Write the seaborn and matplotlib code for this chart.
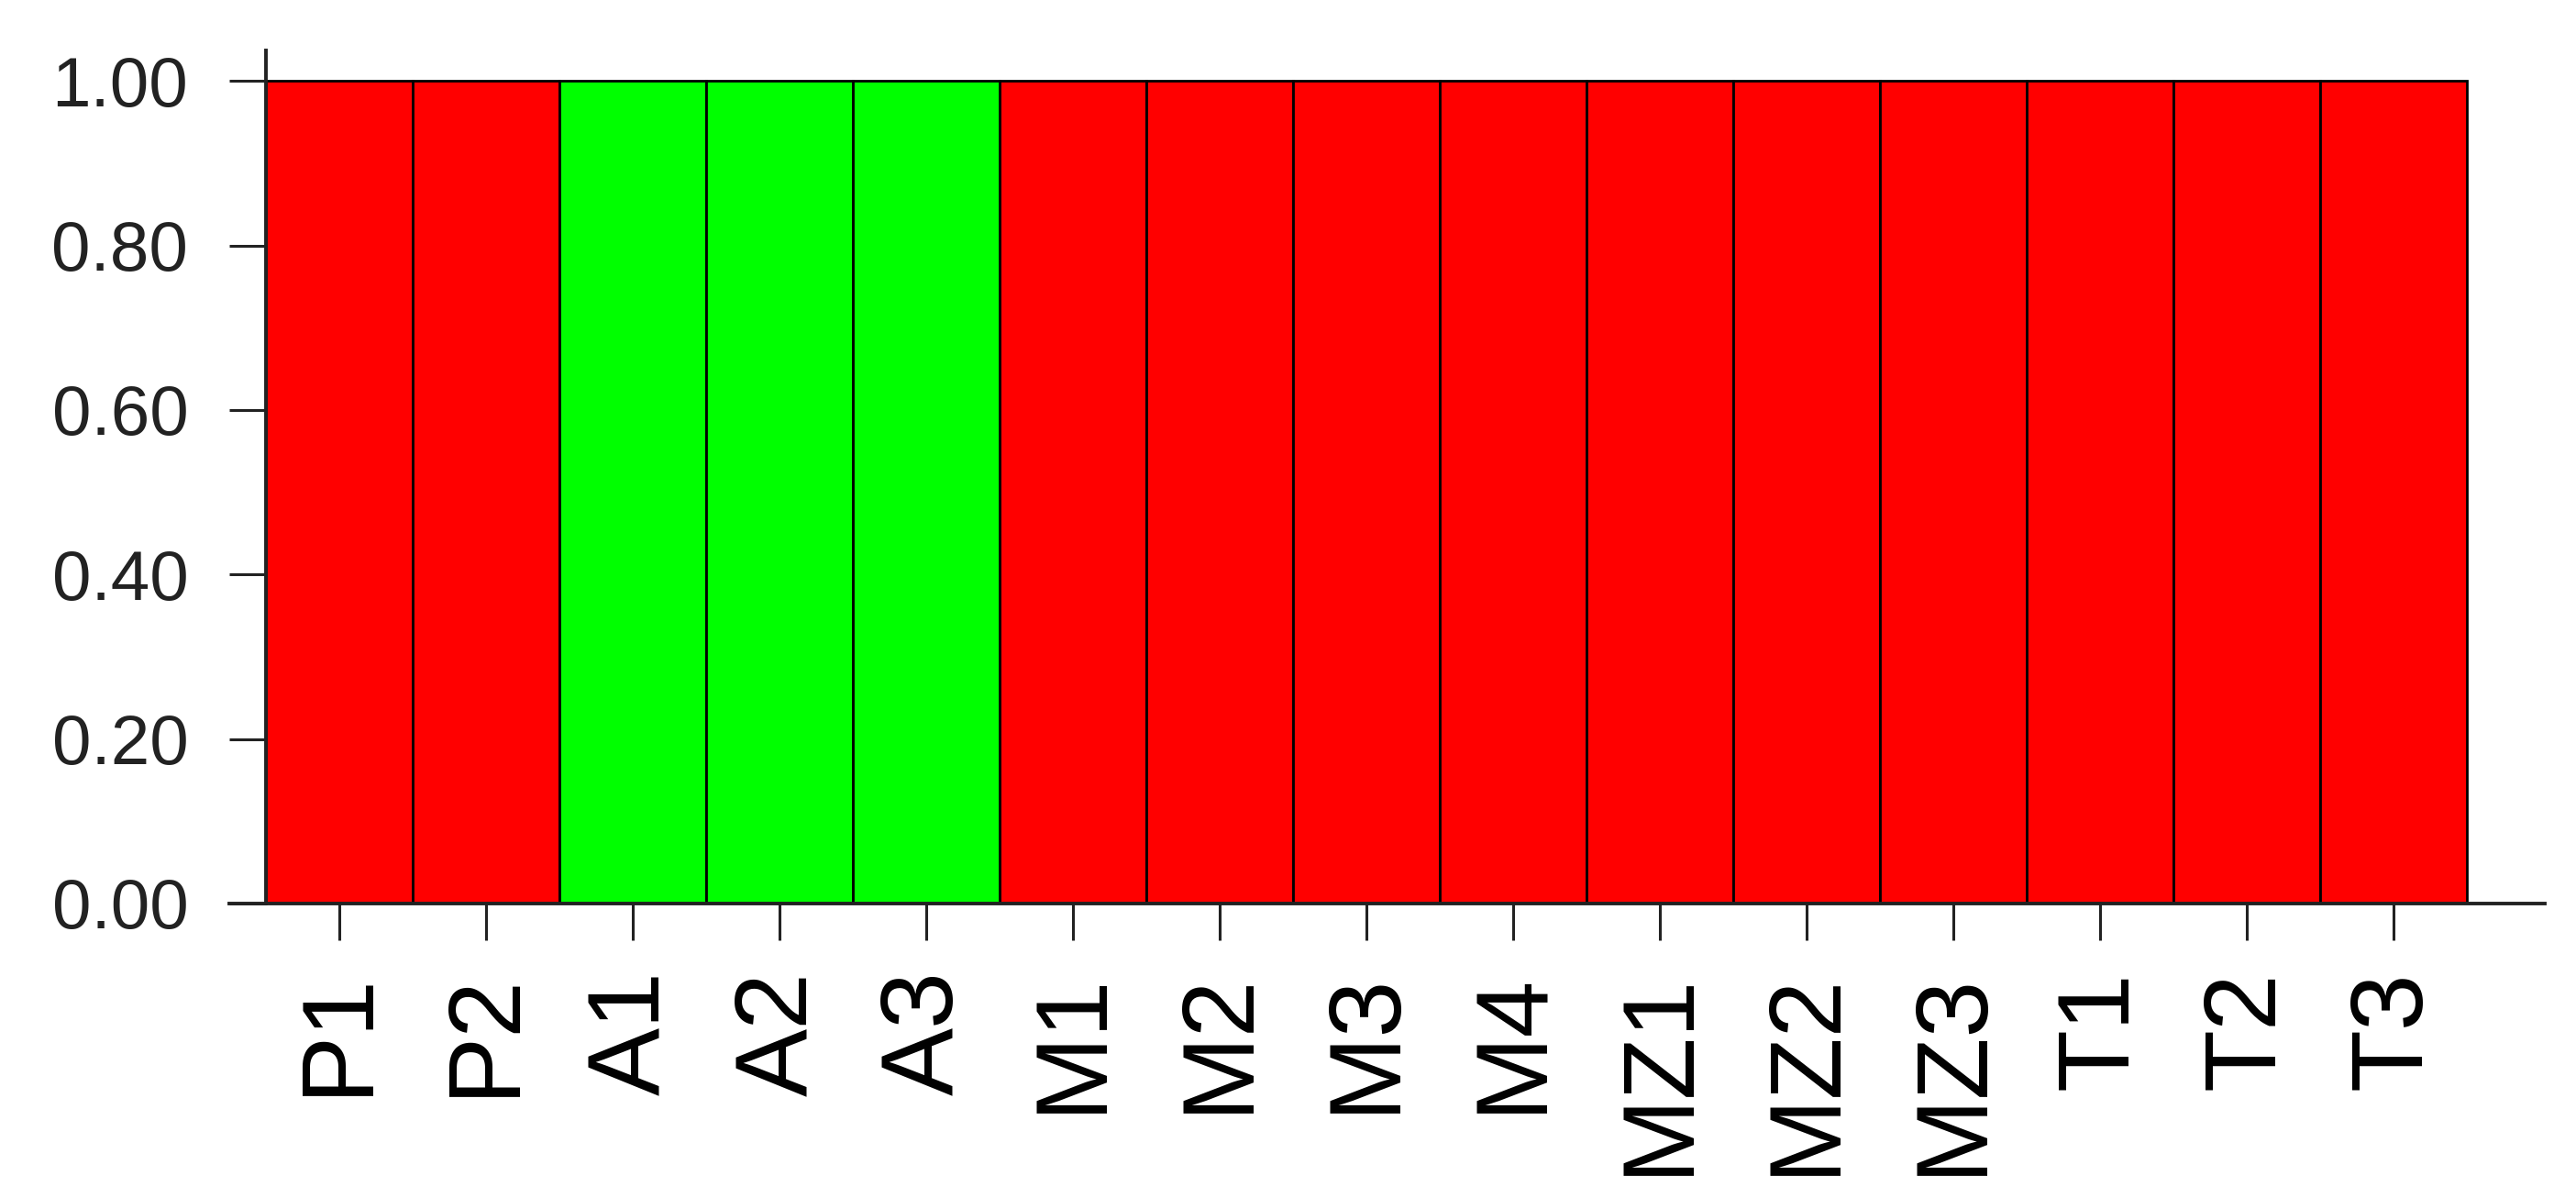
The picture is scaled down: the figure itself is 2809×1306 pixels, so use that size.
import matplotlib
matplotlib.use("Agg")
import matplotlib.pyplot as plt
import seaborn as sns
import pandas as pd

# STRUCTURE-style membership plot (K=2)
samples = ["P1", "P2", "A1", "A2", "A3", "M1", "M2", "M3", "M4",
           "MZ1", "MZ2", "MZ3", "T1", "T2", "T3"]
membership = [1.0] * 15
cluster = ["red", "red", "green", "green", "green", "red", "red", "red", "red",
           "red", "red", "red", "red", "red", "red"]
cluster_colors = {"red": "#FF0000", "green": "#00FF00"}
y_ticks = [0.0, 0.2, 0.4, 0.6, 0.8, 1.0]

df = pd.DataFrame({"sample": samples, "q": membership, "cluster": cluster})

sns.set_style("ticks")
plt.rcParams["font.family"] = ["Liberation Sans", "DejaVu Sans"]

fig = plt.figure(figsize=(28.09, 13.06), dpi=100)
ax = fig.add_axes([0.089, 0.2458, 0.8989, 0.7121])

sns.barplot(data=df, x="sample", y="q", hue="cluster", palette=cluster_colors,
            dodge=False, width=1.0, saturation=1, edgecolor="black",
            linewidth=2.0, legend=False, ax=ax)

ax.set_xlim(-0.75, 15.03)
ax.set_ylim(0, 1.037)
ax.set_yticks(y_ticks)
ax.set_yticklabels([f"{v:.2f}" for v in y_ticks])
ax.set_xlabel("")
ax.set_ylabel("")

sns.despine(ax=ax)
ax.spines["left"].set_position(("data", -0.5))
for s in ["left", "bottom"]:
    ax.spines[s].set_linewidth(2.8)
    ax.spines[s].set_color("#222222")

ax.tick_params(axis="y", length=29, width=2.2, color="#222222",
               labelsize=55, labelcolor="#222222", pad=32)
ax.tick_params(axis="x", length=29, width=2.2, color="#222222",
               labelsize=80, labelcolor="black", pad=24, labelrotation=90)

fig.savefig("out.png", dpi=100)
